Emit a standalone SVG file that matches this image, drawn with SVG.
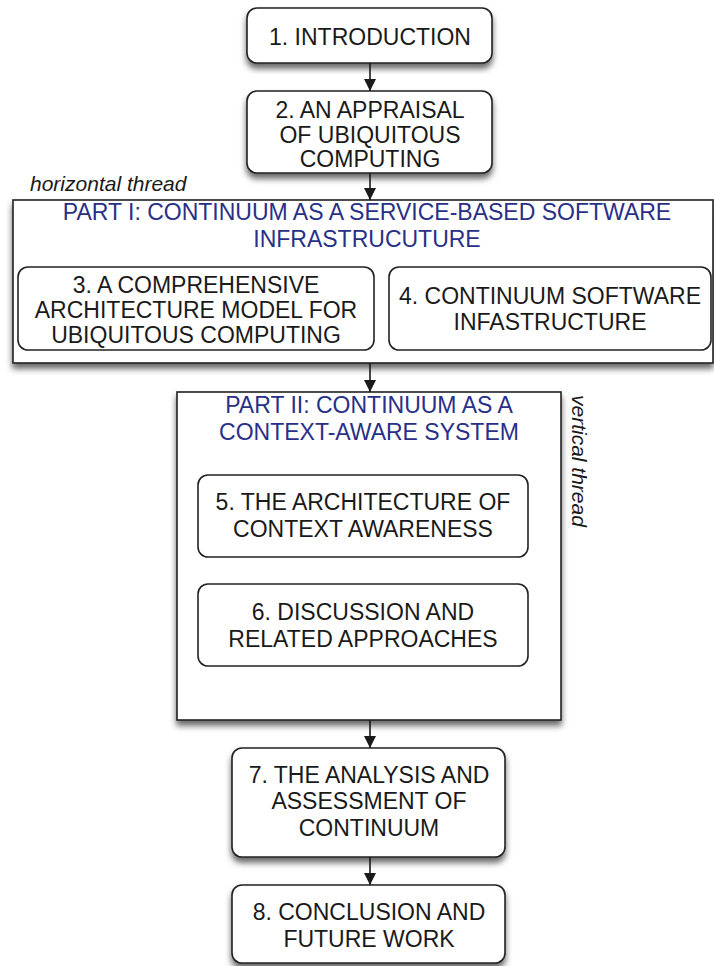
<svg xmlns="http://www.w3.org/2000/svg" width="714" height="966" viewBox="0 0 714 966">
<style>
  .box { fill: #ffffff; stroke: #222222; stroke-width: 1.6; }
  .t { font-family: "Liberation Sans", Arial, Helvetica, sans-serif; font-size: 23px; fill: #1a1a1a; text-anchor: middle; }
  .title { font-family: "Liberation Sans", Arial, Helvetica, sans-serif; font-size: 23px; fill: #283087; text-anchor: middle; }
  .note { font-family: "Liberation Sans", Arial, Helvetica, sans-serif; font-size: 21px; font-style: italic; fill: #1a1a1a; }
  .conn { stroke: #1a1a1a; stroke-width: 1.6; fill: none; marker-end: url(#arrow); }
</style>
<defs>
  <filter id="shadow" x="-10%" y="-10%" width="120%" height="130%">
    <feDropShadow dx="0" dy="5" stdDeviation="3" flood-color="#000000" flood-opacity="0.6"/>
  </filter>
  <marker id="arrow" viewBox="0 0 12 14" refX="12" refY="7" markerWidth="12" markerHeight="14" markerUnits="userSpaceOnUse" orient="auto">
    <path d="M0,1 L12,7 L0,13 Z" fill="#1a1a1a"/>
  </marker>
</defs>
<rect width="714" height="966" fill="#ffffff"/>

<g id="node-part1">
  <rect class="box" x="13" y="200" width="700" height="163" filter="url(#shadow)"/>
  <text class="title" x="367" y="220">PART I: CONTINUUM AS A SERVICE-BASED SOFTWARE</text>
  <text class="title" x="367" y="247">INFRASTRUCUTURE</text>
</g>
<g id="label-horizontal">
  <text class="note" x="30" y="191">horizontal thread</text>
</g>

<g id="node-3">
  <rect class="box" x="18" y="267" width="356" height="83" rx="10"/>
  <text class="t" x="196" y="293">3. A COMPREHENSIVE</text>
  <text class="t" x="196" y="318">ARCHITECTURE MODEL FOR</text>
  <text class="t" x="196" y="343">UBIQUITOUS COMPUTING</text>
</g>
<g id="node-4">
  <rect class="box" x="389" y="267" width="322" height="83" rx="10"/>
  <text class="t" x="550" y="304">4. CONTINUUM SOFTWARE</text>
  <text class="t" x="550" y="330">INFASTRUCTURE</text>
</g>

<g id="node-part2">
  <rect class="box" x="177" y="392" width="384" height="328" filter="url(#shadow)"/>
  <text class="title" x="369" y="413">PART II: CONTINUUM AS A</text>
  <text class="title" x="369" y="440">CONTEXT-AWARE SYSTEM</text>
</g>
<g id="label-vertical">
  <text class="note" transform="translate(572,395) rotate(90)">vertical thread</text>
</g>

<g id="node-5">
  <rect class="box" x="198" y="475" width="330" height="82" rx="10"/>
  <text class="t" x="363" y="510">5. THE ARCHITECTURE OF</text>
  <text class="t" x="363" y="537">CONTEXT AWARENESS</text>
</g>
<g id="node-6">
  <rect class="box" x="198" y="584" width="330" height="82" rx="10"/>
  <text class="t" x="363" y="620">6. DISCUSSION AND</text>
  <text class="t" x="363" y="647">RELATED APPROACHES</text>
</g>

<g id="node-1">
  <rect class="box" x="247" y="8" width="245" height="55" rx="10" filter="url(#shadow)"/>
  <text class="t" x="370" y="45">1. INTRODUCTION</text>
</g>
<g id="node-2">
  <rect class="box" x="247" y="91" width="245" height="82" rx="10" filter="url(#shadow)"/>
  <text class="t" x="370" y="118">2. AN APPRAISAL</text>
  <text class="t" x="370" y="143">OF UBIQUITOUS</text>
  <text class="t" x="370" y="167">COMPUTING</text>
</g>
<g id="node-7">
  <rect class="box" x="232" y="748" width="273" height="109" rx="10" filter="url(#shadow)"/>
  <text class="t" x="369" y="783">7. THE ANALYSIS AND</text>
  <text class="t" x="369" y="809">ASSESSMENT OF</text>
  <text class="t" x="369" y="836">CONTINUUM</text>
</g>
<g id="node-8">
  <rect class="box" x="232" y="885" width="273" height="78" rx="10" filter="url(#shadow)"/>
  <text class="t" x="369" y="920">8. CONCLUSION AND</text>
  <text class="t" x="369" y="947">FUTURE WORK</text>
</g>

<g id="connectors">
  <line class="conn" x1="370" y1="63" x2="370" y2="91"/>
  <line class="conn" x1="370" y1="173" x2="370" y2="200"/>
  <line class="conn" x1="370" y1="363" x2="370" y2="392"/>
  <line class="conn" x1="370" y1="720" x2="370" y2="748"/>
  <line class="conn" x1="370" y1="857" x2="370" y2="885"/>
</g>
</svg>
